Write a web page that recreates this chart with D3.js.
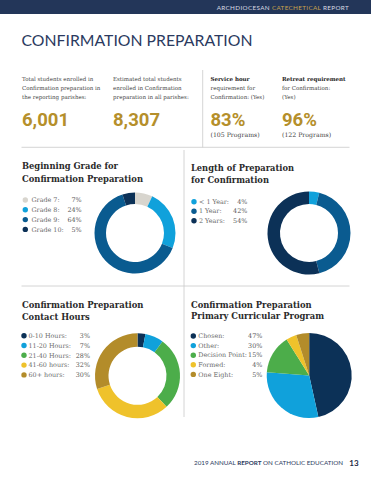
<!DOCTYPE html>
<html>
<head>
<meta charset="utf-8">
<script src="https://cdn.jsdelivr.net/npm/d3@7"></script>
<style>
body{margin:0;background:#fff;}
svg{display:block;}
.body{font-family:"DejaVu Serif",serif;}
.head{font-family:"DejaVu Serif",serif;font-weight:bold;fill:#2a2a2a;}
.big{font-family:Roboto,"Liberation Sans",sans-serif;font-weight:bold;fill:#b58f2b;}
.rule{stroke:#c9c9c9;stroke-width:0.8;}
</style>
</head>
<body>
<script>
// chart data
var statLabels=[["Total students enrolled in","Confirmation preparation in","the reporting parishes:"],
 ["Estimated total students","enrolled in Confirmation","preparation in all parishes:"],
 ["Service hour","requirement for","Confirmation: (Yes)"],
 ["Retreat requirement","for Confirmation:","(Yes)"]];
var statValues=["6,001","8,307","83%","96%"];
var statNotes=["","","(105 Programs)","(122 Programs)"];

var gradeLabels=["Grade 7:","Grade 8:","Grade 9:","Grade 10:"];
var gradeValues=[7,24,64,5];
var lengthLabels=["< 1 Year:","1 Year:","2 Years:"];
var lengthValues=[4,42,54];
var hoursLabels=["0-10 Hours:","11-20 Hours:","21-40 Hours:","41-60 hours:","60+ hours:"];
var hoursValues=[3,7,28,32,30];
var programLabels=["Chosen:","Other:","Decision Point:","Formed:","One Eight:"];
var programValues=[47,30,15,4,5];

// colours
var navy='#0c3157',blue='#0a5b90',cyan='#10a1db',grey='#d8d5ce',green='#4cad4a',yellow='#efc22b',brown='#b38c2a';

var wid=371,hgh=480;
var svg=d3.select('body').append('svg').attr('width',wid).attr('height',hgh);

// header bar
svg.append('rect').attr('x',0).attr('y',0).attr('width',wid).attr('height',14).attr('fill','#233659');
var ht=svg.append('text').attr('x',349).attr('y',9.6).attr('text-anchor','end')
  .attr('font-family','Lato, "Open Sans", sans-serif').attr('font-size',6.3).attr('letter-spacing',0.35).attr('fill','#d9dbe3');
ht.append('tspan').text('ARCHDIOCESAN ');
ht.append('tspan').attr('fill','#c9a24c').text('CATECHETICAL');
ht.append('tspan').text(' REPORT');

// title
svg.append('text').attr('x',21.5).attr('y',46).attr('font-family','Lato, "Open Sans", sans-serif')
  .attr('font-size',15.5).attr('fill','#2b3a60').attr('textLength',231).attr('lengthAdjust','spacingAndGlyphs')
  .text('CONFIRMATION PREPARATION');

// stats row
var statx=[22,113,210.5,282];
statLabels.forEach(function(lines,i){
 lines.forEach(function(l,j){
  svg.append('text').attr('class','body').attr('x',statx[i]).attr('y',81+j*9.2).attr('font-size',5.5)
    .attr('font-weight',(i>1&&j==0)?'bold':'normal').style('fill',(i>1&&j==0)?'#222':'#444').text(l);
 });
 svg.append('text').attr('class','big').attr('x',statx[i]).attr('y',126.2).attr('font-size',18.5).text(statValues[i]);
 if(statNotes[i]) svg.append('text').attr('class','body').attr('x',statx[i]).attr('y',136.8).attr('font-size',6.2)
   .style('fill','#444').text(statNotes[i]);
});

// rules
svg.append('line').attr('class','rule').attr('x1',21.5).attr('x2',349.5).attr('y1',147.3).attr('y2',147.3);
svg.append('line').attr('class','rule').attr('x1',202.7).attr('x2',202.7).attr('y1',70).attr('y2',147.3);
svg.append('line').attr('class','rule').attr('x1',21.5).attr('x2',349.5).attr('y1',286).attr('y2',286);
svg.append('line').attr('class','rule').attr('x1',184).attr('x2',184).attr('y1',150).attr('y2',417);

// panels
var panels=[
 {title:['Beginning Grade for','Confirmation Preparation'],tw:[96,121],tx:22,ty:[169,181.5],
  labels:gradeLabels,values:gradeValues,colors:[grey,cyan,blue,navy],
  ly:200,step:9.8,mx:25.3,lx:31.5,vx:81.7,cx:135,cy:233,r:40.5,ir:29},
 {title:['Length of Preparation','for Confirmation'],tw:[103,78],tx:191,ty:[170.5,182.5],
  labels:lengthLabels,values:lengthValues,colors:[cyan,blue,navy],
  ly:201.7,step:9.5,mx:194,lx:199,vx:247.3,cx:309,cy:233,r:41.5,ir:29},
 {title:['Confirmation Preparation','Contact Hours'],tw:[121.5,67.7],tx:22,ty:[307.8,320],
  labels:hoursLabels,values:hoursValues,colors:[navy,cyan,green,yellow,brown],
  ly:335.7,step:9.8,mx:24,lx:28.5,vx:90,cx:137.5,cy:375.8,r:42.5,ir:29},
 {title:['Confirmation Preparation','Primary Curricular Program'],tw:[120.7,133],tx:191,ty:[308.3,319.4],
  labels:programLabels,values:programValues,colors:[navy,cyan,green,yellow,brown],
  ly:336,step:9.6,mx:193.3,lx:198.3,vx:262.3,cx:309.2,cy:375.5,r:42.5,ir:0}
];

function drawpanel(p){
 p.title.forEach(function(t,j){
  svg.append('text').attr('class','head').attr('x',p.tx).attr('y',p.ty[j]).attr('font-size',8.8)
    .attr('textLength',p.tw[j]).attr('lengthAdjust','spacingAndGlyphs').text(t);
 });
 var leg=svg.append('g');
 var row=leg.selectAll('g').data(p.labels).enter().append('g')
   .attr('transform',function(d,i){return 'translate(0,'+(p.ly+i*p.step)+')';});
 row.append('circle').attr('cx',p.mx).attr('cy',0).attr('r',2.7)
   .attr('fill',function(d,i){return p.colors[i];});
 row.append('text').attr('class','body').attr('x',p.lx).attr('y',2.2).attr('font-size',6.4)
   .style('fill','#6a6a6a').text(function(d){return d;});
 row.append('text').attr('class','body').attr('x',p.vx).attr('y',2.2).attr('font-size',6.4)
   .attr('text-anchor','end').style('fill','#555').text(function(d,i){return p.values[i]+'%';});
 var pie=d3.pie().sort(null).value(function(d){return d;});
 var arc=d3.arc().innerRadius(p.ir).outerRadius(p.r);
 svg.append('g').attr('transform','translate('+p.cx+','+p.cy+')')
   .selectAll('path').data(pie(p.values)).enter().append('path')
   .attr('d',arc).attr('fill',function(d,i){return p.colors[i];});
}
panels.forEach(drawpanel);

// footer
var ft=svg.append('text').attr('x',194).attr('y',465).attr('font-family','Lato, "Open Sans", sans-serif')
  .attr('font-size',6).attr('fill','#2b3a60').attr('textLength',149).attr('lengthAdjust','spacingAndGlyphs');
ft.append('tspan').text('2019 ANNUAL ');
ft.append('tspan').attr('font-weight','bold').text('REPORT');
ft.append('tspan').text(' ON CATHOLIC EDUCATION');
svg.append('text').attr('x',349.3).attr('y',465.5).attr('font-family','Lato, "Open Sans", sans-serif')
  .attr('font-size',8).attr('font-weight','bold').attr('fill','#1d2a45').text('13');
</script>
</body>
</html>
